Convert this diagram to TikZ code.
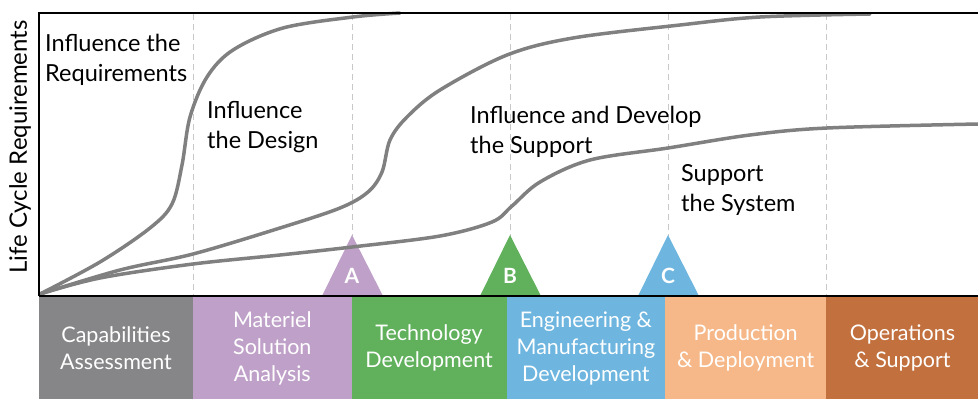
\documentclass[tikz,border=0pt]{standalone}
\usepackage{fontspec}
\setmainfont{Lato}
\usepackage{tikz}
\usetikzlibrary{positioning}
\definecolor{capgray}{RGB}{134,134,136}
\definecolor{msapurple}{RGB}{191,160,200}
\definecolor{tdgreen}{RGB}{96,176,92}
\definecolor{emdblue}{RGB}{110,182,223}
\definecolor{pdpeach}{RGB}{246,184,136}
\definecolor{osbrown}{RGB}{194,112,62}
\definecolor{curvegray}{RGB}{128,128,128}
\definecolor{guidegray}{RGB}{200,200,200}

\begin{document}
\begin{tikzpicture}[x=1pt, y=-1pt,
      curve/.style={draw=curvegray, line width=3.5pt, line cap=round},
      guide/.style={draw=guidegray, dash pattern=on 6pt off 4pt, line width=1pt},
      frame/.style={draw=black, line width=2pt},
      note/.style={anchor=north west, align=left, inner sep=0pt,
      font=\fontsize{23.5}{30}\selectfont},
      phase/.style={fill=#1, draw=#1, line width=0.8pt, minimum height=101pt, inner sep=0pt,
      text=white, align=center, font=\fontsize{21.5}{27}\selectfont},
      mile/.style={text=white, inner sep=0pt, font=\bfseries\fontsize{21}{21}\selectfont}]
    \useasboundingbox (0,0) rectangle (978,399);
    %% phases
    \node [phase=capgray, minimum width=153pt] (CA) at (116,348) {Capabilities\\Assessment};
    \node [phase=msapurple, minimum width=158pt, right=0pt of CA] (MSA) {Materiel\\Solution\\Analysis};
    \node [phase=tdgreen, minimum width=154pt, right=0pt of MSA] (TD) {Technology\\Development};
    \node [phase=emdblue, minimum width=158pt, right=0pt of TD] (EMD) {Engineering \&\\Manufacturing\\Development};
    \node [phase=pdpeach, minimum width=160pt, right=0pt of EMD] (PD) {Production\\\& Deployment};
    \node [phase=osbrown, minimum width=152pt, right=0pt of PD] (OS) {Operations\\\& Support};
    %% guides and milestones
    \foreach \x/\y in {193/296, 352/236, 510/236, 668/236, 826/296}
      \draw [guide] (\x,14) -- (\x,\y);
    \foreach \x/\c/\l in {352/msapurple/A, 510/tdgreen/B, 668/emdblue/C} {
      \fill [\c] (\x-30,296) -- (\x,235) -- (\x+31,296) -- cycle;
      \node [mile] (m\l) at (\x,276) {\l};
    }
    %% curves
    \draw [curve] plot [smooth, tension=0.55] coordinates {(40,294) (100,262) (150,228)
      (172,204) (182,165) (190,117) (207,77) (233,50) (283,28) (353,17) (400,13)};
    \draw [curve] plot [smooth, tension=0.55] coordinates {(40,294) (120,270) (193,254)
      (280,228) (340,208) (368,192) (382,172) (390,140) (407,117) (440,90) (507,55)
      (573,38) (680,25) (760,17) (870,14)};
    \draw [curve] plot [smooth, tension=0.55] coordinates {(40,294) (100,278) (193,264)
      (280,255) (352,247) (440,236) (492,222) (512,206) (540,182) (590,160) (668,148)
      (750,135) (827,128) (978,124)};
    %% frame
    \draw [frame] (39,296) -- (39,13) -- (978,13);
    \draw [frame] (39,296) -- (978,296);
    %% labels
    \node [note] (req) at (45,34) {Influence the\\Requirements};
    \node [note] (des) at (207,101) {Influence\\the Design};
    \node [note] (sup) at (470,106) {Influence and Develop\\the Support};
    \node [note] (sys) at (681,164) {Support\\the System};
    \node [rotate=90, font=\fontsize{24}{28}\selectfont] (ylab) at (20,147) {Life Cycle Requirements};
  \end{tikzpicture}
\end{document}
